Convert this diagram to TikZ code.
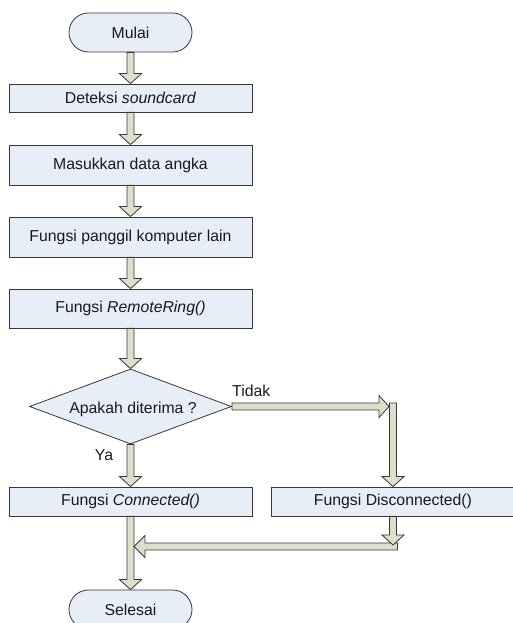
\documentclass[tikz,border=0pt]{standalone}
\usepackage{fontspec}
\setmainfont{Liberation Sans}
\usetikzlibrary{shapes.geometric,shapes.misc,calc}

\definecolor{boxfill}{HTML}{E8EEF8}
\definecolor{arrowfill}{HTML}{DCE0CA}
\definecolor{edgegray}{HTML}{383838}

% Vertical block arrow from #1 to the tip #2; #3 = signed head length
\newcommand{\vblock}[3]{%
  \draw[blockarrow] let \p1=(#1), \p2=(#2) in
    (\x1-3.5pt,\y1) -- (\x1-3.5pt,\y2+#3) -- (\x1-11pt,\y2+#3) -- (\x1,\y2)
    -- (\x1+11pt,\y2+#3) -- (\x1+3.5pt,\y2+#3) -- (\x1+3.5pt,\y1) -- cycle;}
% Horizontal block arrow from #1 to the tip #2; #3 = signed head length
\newcommand{\hblock}[3]{%
  \draw[blockarrow] let \p1=(#1), \p2=(#2) in
    (\x1,\y1-3.5pt) -- (\x2-#3,\y1-3.5pt) -- (\x2-#3,\y1-11pt) -- (\x2,\y1)
    -- (\x2-#3,\y1+11pt) -- (\x2-#3,\y1+3.5pt) -- (\x1,\y1+3.5pt) -- cycle;}

\begin{document}
\begin{tikzpicture}[x=1pt,y=1pt,
  every node/.style={font=\fontsize{15.8}{18}\selectfont, text=black!90},
  base/.style={draw=edgegray, fill=boxfill, line width=0.8pt, inner sep=0pt},
  term/.style={base, rounded rectangle, minimum width=123pt, minimum height=39pt},
  proc/.style={base, rectangle, minimum width=243pt},
  decision/.style={base, diamond, aspect=2.7, minimum width=202pt, minimum height=75pt},
  blockarrow/.style={draw=edgegray, fill=arrowfill, line width=0.8pt, line join=miter},
  lbl/.style={inner sep=0pt}]
\useasboundingbox (0,0) rectangle (513,623);

% flow nodes
\node[term] (mulai) at (130.5,590.5) {Mulai};
\node[proc, minimum height=28pt] (deteksi) at (130.5,525) {Deteksi \textit{soundcard}};
\node[proc, minimum height=40pt] (masukkan) at (130.5,458) {Masukkan data angka};
\node[proc, minimum height=40pt] (panggil) at (130.5,386) {Fungsi panggil komputer lain};
\node[proc, minimum height=39pt] (remote) at (130.5,314.5) {Fungsi \textit{RemoteRing()}};
\node[decision] (dec) at (130.5,216.5) {};
\node[lbl] (dectext) at (133,214) {Apakah diterima ?};
\node[proc, minimum height=29pt] (conn) at (130.5,121.5) {Fungsi \textit{Connected()}};
\node[proc, minimum height=29pt] (disc) at (393,121.5) {Fungsi Disconnected()};
\node[term] (selesai) at (130.5,13.5) {Selesai};

% branch labels
\node[lbl, anchor=south west] (tidak) at (232,226) {Tidak};
\node[lbl] (ya) at (104,168) {Ya};

% helper points for the branch routing
\coordinate (tidaktip) at ($(dec.east -| disc.north)+(-4,0)$);
\coordinate (tidaktop) at ($(dec.east -| disc.north)+(0,3.5)$);
\coordinate (joinR) at (397.5,76.5);
\coordinate (joinL) at (134,76.5);
\coordinate (joinTip) at (393,78);

% main column
\vblock{mulai.south}{deteksi.north}{10pt}
\vblock{deteksi.south}{masukkan.north}{10pt}
\vblock{masukkan.south}{panggil.north}{10pt}
\vblock{panggil.south}{remote.north}{10pt}
\vblock{remote.south}{dec.north}{10pt}
\vblock{dec.south}{conn.north}{10pt}
\vblock{conn.south}{selesai.north}{10pt}

% "Tidak" branch
\hblock{dec.east}{tidaktip}{10pt}
\vblock{tidaktop}{disc.north}{10pt}

% return path into the main column
\hblock{joinR}{joinL}{-11pt}
\vblock{disc.south}{joinTip}{10pt}
\end{tikzpicture}
\end{document}
